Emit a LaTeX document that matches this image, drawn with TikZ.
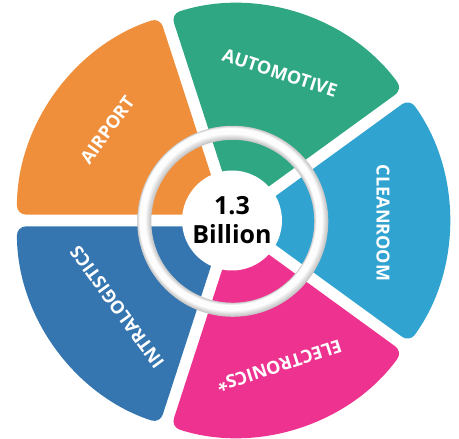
\documentclass[tikz,border=0pt]{standalone}
\usepackage{fontspec}
\setmainfont{Open Sans}
\usetikzlibrary{calc}

\definecolor{airportcol}{RGB}{239,142,59}
\definecolor{autocol}{RGB}{47,167,131}
\definecolor{cleancol}{RGB}{49,163,208}
\definecolor{elecol}{RGB}{238,50,144}
\definecolor{intracol}{RGB}{53,118,177}

\begin{document}
\begin{tikzpicture}[x=1pt, y=1pt,
	seglabel/.style={text=white, font=\bfseries\fontsize{18}{18}\selectfont, inner sep=0pt},
	hub/.style={circle, fill=white, minimum size=100pt, inner sep=0pt, align=center,
		font=\bfseries\fontsize{25}{29}\selectfont}]

	\useasboundingbox (0,0) rectangle (459,439);
	\coordinate (o) at (232,218.5);

	% === WEDGES === (((
	\foreach \a/\col in {144/airportcol, 72/autocol, 0/cleancol, -72/elecol, 216/intracol} {
		\fill [\col, rounded corners=9pt] ($(o)+(\a:10)$) -- ++(\a-36:207)
			arc [start angle=\a-36, end angle=\a+36, radius=207] -- cycle;
	}
	% )))

	% === RING === (((
	\draw [line width=14, gray!45] ($(o)+(0.8,-0.8)$) circle (88.5);
	\foreach \i in {1,...,8}
		\draw [line width=14-\i, gray!45!white!\the\numexpr100-12*\i\relax!white]
			($(o)+(0.8-0.2*\i,-0.8+0.2*\i)$) circle (88.5);
	% )))

	% === LABELS === (((
	\node (total) [hub] at (o) {1.3\\Billion};
	\node (airport) [seglabel, rotate=54] at ($(o)+(144:154)$) {AIRPORT};
	\node (automotive) [seglabel, rotate=-18] at ($(o)+(72:155)$) {AUTOMOTIVE};
	\node (cleanroom) [seglabel, rotate=-90] at ($(o)+(-1:151)$) {CLEANROOM};
	\node (electronics) [seglabel, rotate=-162] at ($(o)+(-72:153)$) {ELECTRONICS*};
	\node (intralogistics) [seglabel, rotate=126] at ($(o)+(217:144)$) {INTRALOGISTICS};
	% )))

\end{tikzpicture}
\end{document}
